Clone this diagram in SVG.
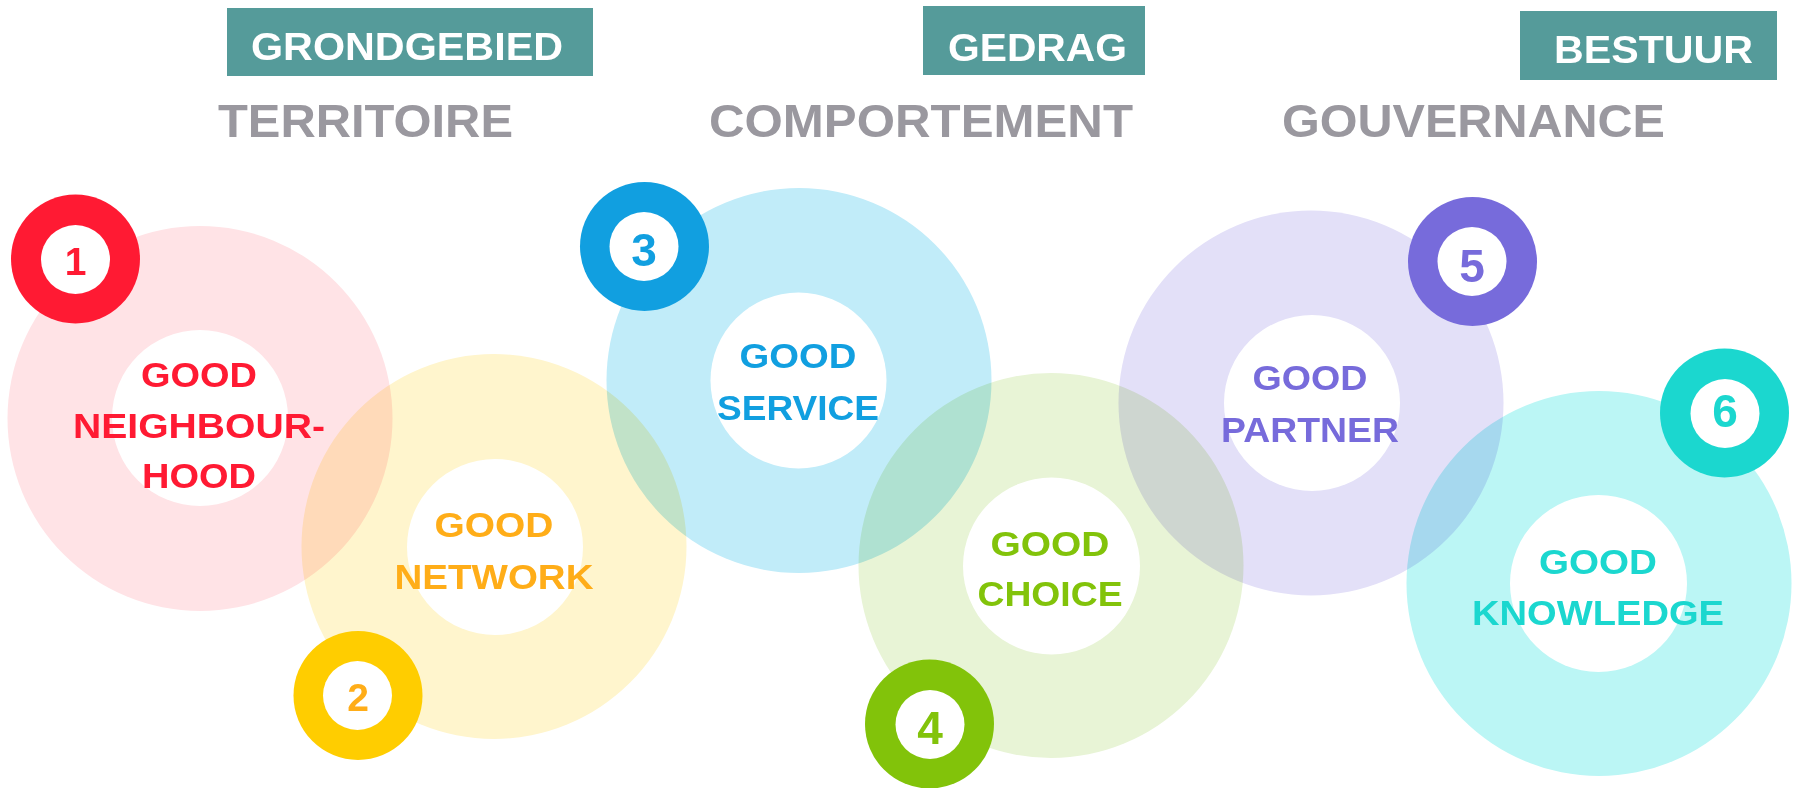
<svg xmlns="http://www.w3.org/2000/svg" width="1800" height="788" viewBox="0 0 1800 788">
<style>
.ring{mix-blend-mode:multiply}
.hole{fill:#ffffff}
.lbl{font-family:"Liberation Sans",Arial,sans-serif;font-weight:bold;font-size:35px;text-anchor:middle}
.num{font-family:"Liberation Sans",Arial,sans-serif;font-weight:bold;text-anchor:middle}
.tag{fill:#559b9a}
.tagt{font-family:"Liberation Sans",Arial,sans-serif;font-weight:bold;font-size:39px;fill:#ffffff}
.head{font-family:"Liberation Sans",Arial,sans-serif;font-weight:bold;font-size:46px;fill:#9a989f}
</style>
<rect width="1800" height="788" fill="#ffffff"/>
<g id="headers">
  <g id="h-territoire">
    <rect class="tag" x="227" y="8" width="366" height="68"/>
    <text class="tagt" x="251" y="60" textLength="312" lengthAdjust="spacingAndGlyphs">GRONDGEBIED</text>
    <text class="head" x="218" y="137" textLength="295" lengthAdjust="spacingAndGlyphs">TERRITOIRE</text>
  </g>
  <g id="h-comportement">
    <rect class="tag" x="923" y="6" width="222" height="69"/>
    <text class="tagt" x="948" y="61" textLength="179" lengthAdjust="spacingAndGlyphs">GEDRAG</text>
    <text class="head" x="709" y="137" textLength="424" lengthAdjust="spacingAndGlyphs">COMPORTEMENT</text>
  </g>
  <g id="h-gouvernance">
    <rect class="tag" x="1520" y="11" width="257" height="69"/>
    <text class="tagt" x="1554" y="63" textLength="199" lengthAdjust="spacingAndGlyphs">BESTUUR</text>
    <text class="head" x="1282" y="137" textLength="383" lengthAdjust="spacingAndGlyphs">GOUVERNANCE</text>
  </g>
</g>
<g id="node1">
  <circle class="ring" cx="200" cy="418.5" r="192.5" fill="#ffe3e6"/>
  <circle class="hole" cx="200" cy="418" r="88"/>
  <text class="lbl" fill="#ff1a33"><tspan x="199" y="387" textLength="116" lengthAdjust="spacingAndGlyphs">GOOD</tspan><tspan x="199" y="438" textLength="252" lengthAdjust="spacingAndGlyphs">NEIGHBOUR-</tspan><tspan x="199" y="488" textLength="114" lengthAdjust="spacingAndGlyphs">HOOD</tspan></text>
  <circle cx="75.5" cy="259" r="64.5" fill="#ff1a33"/>
  <circle class="hole" cx="75.5" cy="259.5" r="34.5"/>
  <text class="num" x="75.5" y="275" font-size="39" fill="#ff1a33">1</text>
</g>
<g id="node2">
  <circle class="ring" cx="494" cy="546.5" r="192.5" fill="#fff5cd"/>
  <circle class="hole" cx="495" cy="547" r="88"/>
  <text class="lbl" fill="#ffad18"><tspan x="494" y="537" textLength="119" lengthAdjust="spacingAndGlyphs">GOOD</tspan><tspan x="494" y="589" textLength="199" lengthAdjust="spacingAndGlyphs">NETWORK</tspan></text>
  <circle cx="358" cy="695.5" r="64.5" fill="#ffcd00"/>
  <circle class="hole" cx="357.5" cy="695.5" r="34.5"/>
  <text class="num" x="358" y="711" font-size="39" fill="#ffad18">2</text>
</g>
<g id="node3">
  <circle class="ring" cx="799" cy="380.5" r="192.5" fill="#c1ecf9"/>
  <circle class="hole" cx="798.5" cy="380.5" r="88"/>
  <text class="lbl" fill="#119fe0"><tspan x="798" y="368" textLength="117" lengthAdjust="spacingAndGlyphs">GOOD</tspan><tspan x="798" y="420" textLength="162" lengthAdjust="spacingAndGlyphs">SERVICE</tspan></text>
  <circle cx="644.5" cy="246.5" r="64.5" fill="#119fe0"/>
  <circle class="hole" cx="644" cy="246.5" r="34.5"/>
  <text class="num" x="644" y="266" font-size="46" fill="#119fe0">3</text>
</g>
<g id="node4">
  <circle class="ring" cx="1051" cy="565.5" r="192.5" fill="#e8f4d6"/>
  <circle class="hole" cx="1051.5" cy="566" r="88.5"/>
  <text class="lbl" fill="#82c30a"><tspan x="1050" y="556" textLength="119" lengthAdjust="spacingAndGlyphs">GOOD</tspan><tspan x="1050" y="606" textLength="145" lengthAdjust="spacingAndGlyphs">CHOICE</tspan></text>
  <circle cx="929.5" cy="724" r="64.5" fill="#82c30a"/>
  <circle class="hole" cx="930" cy="724.5" r="34.5"/>
  <text class="num" x="930" y="744" font-size="46" fill="#82c30a">4</text>
</g>
<g id="node5">
  <circle class="ring" cx="1311" cy="403" r="192.5" fill="#e3e0f8"/>
  <circle class="hole" cx="1312" cy="403" r="88"/>
  <text class="lbl" fill="#776bdb"><tspan x="1310" y="390" textLength="115" lengthAdjust="spacingAndGlyphs">GOOD</tspan><tspan x="1310" y="442" textLength="178" lengthAdjust="spacingAndGlyphs">PARTNER</tspan></text>
  <circle cx="1472.5" cy="261.5" r="64.5" fill="#776bdb"/>
  <circle class="hole" cx="1472" cy="261.5" r="34.5"/>
  <text class="num" x="1472" y="282" font-size="46" fill="#776bdb">5</text>
</g>
<g id="node6">
  <circle class="ring" cx="1599" cy="583.5" r="192.5" fill="#bbf6f5"/>
  <circle class="hole" cx="1598.5" cy="583.5" r="88.5"/>
  <text class="lbl" fill="#1bd7cf"><tspan x="1598" y="574" textLength="118" lengthAdjust="spacingAndGlyphs">GOOD</tspan><tspan x="1598" y="625" textLength="252" lengthAdjust="spacingAndGlyphs">KNOWLEDGE</tspan></text>
  <circle cx="1724.5" cy="413" r="64.5" fill="#1bd7cf"/>
  <circle class="hole" cx="1725" cy="413.5" r="34.5"/>
  <text class="num" x="1725" y="427" font-size="46" fill="#1bd7cf">6</text>
</g>
</svg>
